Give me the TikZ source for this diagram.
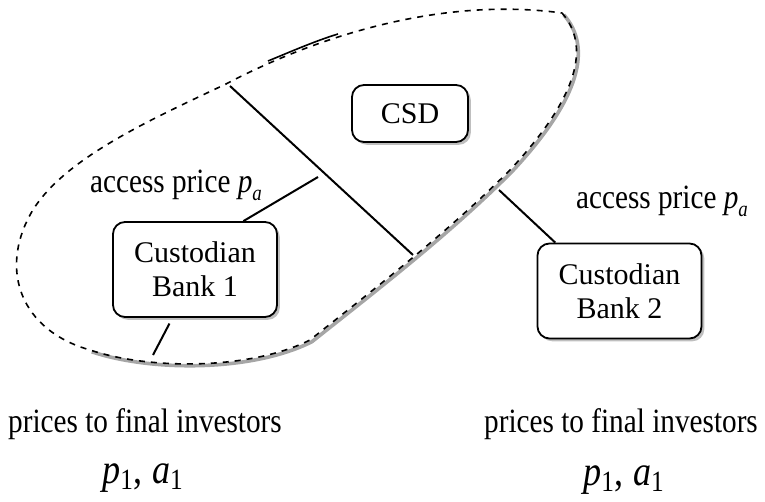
\documentclass[tikz,border=0pt]{standalone}
\usepackage{fontspec}
\usepackage{graphicx}
\setmainfont{Liberation Serif}
\usetikzlibrary{shadows}
\newcommand{\cond}[1]{\scalebox{0.86}[1]{#1}}
\newcommand{\itsub}[2]{\textit{#1}\raisebox{-0.45ex}{\fontsize{11}{13}\selectfont\textit{#2}}}

\begin{document}
\begin{tikzpicture}[x=0.5pt, y=-0.5pt,
                        line width=1pt,
                        main node/.style={draw, rounded corners=6pt, line width=0.9pt, fill=white, align=center,
                          drop shadow={shadow xshift=1.4pt, shadow yshift=-1.4pt, fill=black!50},
                          font=\fontsize{15}{17}\selectfont},
                        bank node/.style={main node, minimum width=82pt, minimum height=47.5pt},
                        text node/.style={font=\fontsize{17}{19}\selectfont, inner sep=0pt, anchor=base},
                        var node/.style={font=\fontsize{21}{23}\selectfont, inner sep=0pt, anchor=base}]

      \useasboundingbox (0,0) rectangle (765,502);

      % blob: shadow first, then the dashed outline
      \draw[gray!70, line width=1.8pt, shift={(1.8,1.8)}] (562,13) .. controls (590,45) and (580,95) .. (510,170)
        .. controls (448,232) and (378,286) .. (310,340)
        .. controls (250,370) and (150,370) .. (90,350);
      \draw[dashed, line width=0.8pt] (562,13) .. controls (590,45) and (580,95) .. (510,170)
        .. controls (448,232) and (378,286) .. (310,340)
        .. controls (250,370) and (150,370) .. (90,350)
        .. controls (20,330) and (0,270) .. (30,215)
        .. controls (60,160) and (150,120) .. (226,84)
        .. controls (300,45) and (430,-5) .. (562,13);
      \draw[line width=0.8pt] (268,61) .. controls (290,52) and (315,41) .. (338,34);

      \node[main node, minimum width=58pt, minimum height=28.5pt] (1) at (410,113.5) {CSD};
      \node[bank node] (2) at (195,269.5) {Custodian\\Bank 1};
      \node[bank node] (3) at (619.5,291) {Custodian\\Bank 2};

      \node[text node] (4) at (176,193) {\cond{access price \itsub{p}{a}}};
      \node[text node] (5) at (662,209) {\cond{access price \itsub{p}{a}}};
      \node[text node] (6) at (145,432) {\cond{prices to final investors}};
      \node[text node] (7) at (621,432) {\cond{prices to final investors}};
      \node[var node] (8) at (143,483) {\cond{\textit{p}\textsubscript{1}, \textit{a}\textsubscript{1}}};
      \node[var node] (9) at (624,485) {\cond{\textit{p}\textsubscript{1}, \textit{a}\textsubscript{1}}};

      \coordinate (a) at (230,86);
      \coordinate (b) at (413,255);
      \coordinate (c) at (318,177);
      \coordinate (d) at (499,190);
      \coordinate (e) at (153,355);

      \draw (a) -- (b);
      \draw (c) -- (2.45);
      \draw (d) -- (3.143);
      \draw[shorten <=3.2pt] (2.-115) -- (e);

    \end{tikzpicture}
\end{document}
